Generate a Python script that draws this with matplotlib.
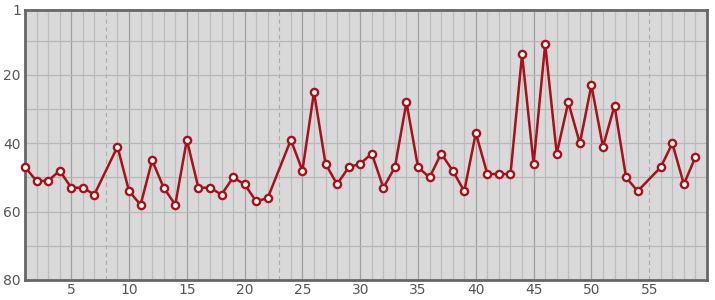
import numpy as np
import matplotlib
matplotlib.use('Agg')
import matplotlib.pyplot as plt
from matplotlib.ticker import FixedLocator

# rank per period (None = no entry)
periods = list(range(1, 60))
ranks = [47, 51, 51, 48, 53, 53, 55, None, 41, 54,
         58, 45, 53, 58, 39, 53, 53, 55, 50, 52,
         57, 56, None, 39, 48, 25, 46, 52, 47, 46,
         43, 53, 47, 28, 47, 50, 43, 48, 54, 37,
         49, 49, 49, 14, 46, 11, 43, 28, 40, 23,
         41, 29, 50, 54, None, 47, 40, 52, 44]
dashed_x = [8, 23, 55]
y_ticks = [1, 20, 40, 60, 80]

xs = [p for p, r in zip(periods, ranks) if r is not None]
ys = [r for r in ranks if r is not None]

fig = plt.figure(figsize=(7.15, 3.0), dpi=100)
ax = fig.add_axes([25/715, 20/300, 682/715, 270/300])
ax.set_facecolor('#d9d9d9')

ax.set_xlim(1, 60)
ax.set_ylim(80, 1)

# grid at every integer, skipping the dashed marker positions
for x in range(2, 60):
    if x in dashed_x:
        continue
    if x % 5 == 0:
        ax.axvline(x, color='#a0a0a0', lw=0.9, zorder=1)
    else:
        ax.axvline(x, color='#bdbdbd', lw=0.9, zorder=1)
for x in dashed_x:
    ax.axvline(x, color='#ababab', lw=0.8, ls=(0, (4, 3)), zorder=1)
for y in range(10, 80, 10):
    ax.axhline(y, color='#b8b8b8', lw=0.9, zorder=1)

ax.plot(xs, ys, color='#a8101a', lw=1.8, marker='o', ms=5.2,
        mfc='white', mec='#a8101a', mew=1.7, zorder=3, clip_on=False)

ax.xaxis.set_major_locator(FixedLocator(list(range(5, 60, 5))))
ax.yaxis.set_major_locator(FixedLocator(y_ticks))
ax.tick_params(length=0, labelsize=10, colors='#555555')
ax.tick_params(axis='x', pad=2)
ax.tick_params(axis='y', pad=3)

for s in ax.spines.values():
    s.set_color('#666666')
    s.set_linewidth(2.0)

fig.savefig('out.png', dpi=100, facecolor='white')
